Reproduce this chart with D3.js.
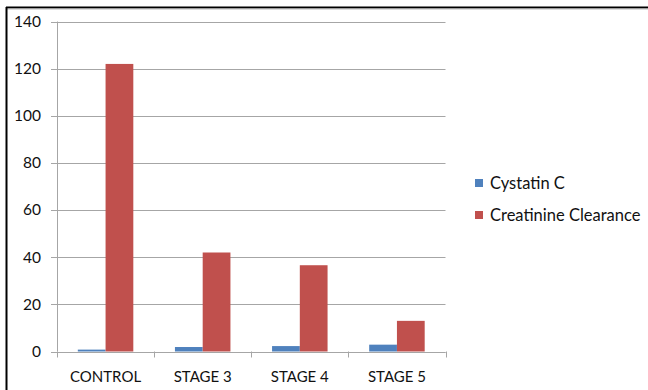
<!DOCTYPE html>
<html>
<head>
<meta charset="utf-8">
<script src="https://cdn.jsdelivr.net/npm/d3@7"></script>
<style>
  html, body { margin: 0; padding: 0; background: #fff; }
  svg { display: block; }
  text { font-family: Lato, "Open Sans", sans-serif; fill: #111; }
</style>
</head>
<body>
<svg id="chart" width="648" height="390"></svg>
<script>
// Groups along the x axis
const categories = ["CONTROL", "STAGE 3", "STAGE 4", "STAGE 5"];
// Series names and their values per group
const seriesNames = ["Cystatin C", "Creatinine Clearance"];
const cystatinC = [0.8, 1.9, 2.3, 2.9];
const creatinineClearance = [122, 42, 36.6, 13];
const yTicks = [0, 20, 40, 60, 80, 100, 120, 140];
const colors = ["#4F81BD", "#C0504D"];

const seriesValues = [cystatinC, creatinineClearance];
const svg = d3.select("#chart");

// Frame around the chart
svg.append("line").attr("x1", 6).attr("x2", 648).attr("y1", 7.5).attr("y2", 7.5)
  .attr("stroke", "#000").attr("stroke-width", 2);
svg.append("line").attr("x1", 6).attr("x2", 648).attr("y1", 9).attr("y2", 9)
  .attr("stroke", "#bbb").attr("stroke-width", 1);
svg.append("line").attr("x1", 6.5).attr("x2", 6.5).attr("y1", 7).attr("y2", 390)
  .attr("stroke", "#000").attr("stroke-width", 2);

const plot = { left: 57, right: 445.5, top: 21.5, bottom: 351.5 };

const x = d3.scaleBand().domain(categories).range([plot.left, plot.right])
  .paddingInner(0).paddingOuter(0);
const inner = d3.scaleBand().domain(seriesNames)
  .range([0, x.bandwidth()]).paddingInner(0).paddingOuter(0.75);
const y = d3.scaleLinear().domain([0, 140]).range([plot.bottom, plot.top]);

// Horizontal gridlines
svg.append("g").selectAll("line").data(yTicks).join("line")
  .attr("x1", plot.left - 6).attr("x2", plot.right)
  .attr("y1", d => Math.round(y(d)) + 0.5).attr("y2", d => Math.round(y(d)) + 0.5)
  .attr("stroke", "#a6a6a6").attr("stroke-width", 1);

// Y axis line
svg.append("line").attr("x1", plot.left + 0.5).attr("x2", plot.left + 0.5)
  .attr("y1", plot.top).attr("y2", plot.bottom)
  .attr("stroke", "#a6a6a6");

// Y tick labels
svg.append("g").selectAll("text").data(yTicks).join("text")
  .attr("x", 41).attr("y", d => y(d))
  .attr("dy", "0.35em").attr("text-anchor", "end")
  .attr("font-size", 15.5).text(d => d);

// Bars
const groups = svg.append("g").selectAll("g").data(categories).join("g")
  .attr("transform", d => `translate(${x(d)},0)`);
groups.selectAll("rect")
  .data((c, i) => seriesNames.map((s, j) => ({ s, v: seriesValues[j][i], j })))
  .join("rect")
  .attr("x", d => inner(d.s))
  .attr("width", inner.bandwidth())
  .attr("y", d => y(d.v))
  .attr("height", d => plot.bottom - y(d.v))
  .attr("fill", d => colors[d.j]);

// X axis baseline and ticks
svg.append("line").attr("x1", plot.left).attr("x2", plot.right)
  .attr("y1", Math.round(plot.bottom) + 0.5).attr("y2", Math.round(plot.bottom) + 0.5)
  .attr("stroke", "#a6a6a6");
const tickXs = categories.map(c => x(c)).concat([x(categories[categories.length - 1]) + x.bandwidth()]);
svg.append("g").selectAll("line").data(tickXs).join("line")
  .attr("x1", d => Math.round(d) + 0.5).attr("x2", d => Math.round(d) + 0.5)
  .attr("y1", plot.bottom).attr("y2", plot.bottom + 6)
  .attr("stroke", "#a6a6a6");

// X labels
svg.append("g").selectAll("text").data(categories).join("text")
  .attr("x", d => x(d) + x.bandwidth() / 2)
  .attr("y", 377).attr("dy", "0.35em")
  .attr("text-anchor", "middle").attr("font-size", 15)
  .text(d => d);

// Legend
const legend = svg.append("g").selectAll("g").data(seriesNames).join("g")
  .attr("transform", (d, i) => `translate(475,${183 + i * 32})`);
legend.append("rect").attr("x", 0).attr("y", -4).attr("width", 8).attr("height", 8)
  .attr("fill", (d, i) => colors[i]);
legend.append("text").attr("x", 15).attr("y", 0).attr("dy", "0.35em")
  .attr("font-size", 16.5).text(d => d);
</script>
</body>
</html>
